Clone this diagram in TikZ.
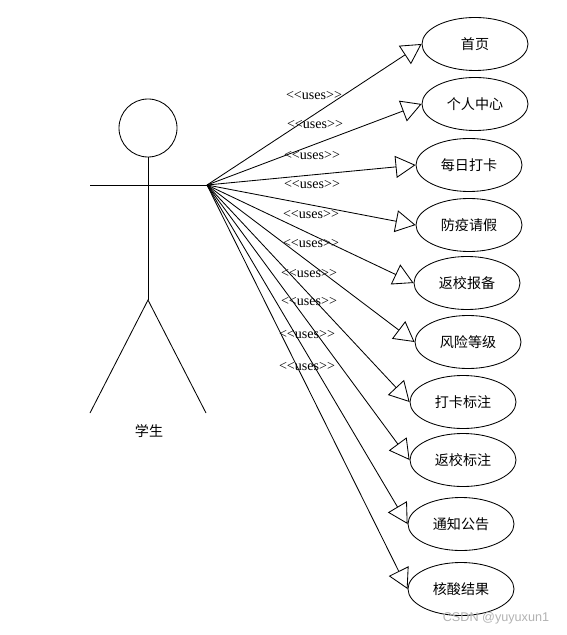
\documentclass[tikz,border=0pt]{standalone}
\usepackage{fontspec}
\setmainfont{Liberation Serif}
\newfontfamily\cjk{Noto Sans CJK SC}
\newfontfamily\marksans{Liberation Sans}
\usetikzlibrary{shapes.geometric,arrows.meta}

\tikzset{
  usecase/.style={draw,ellipse,minimum width=2.65cm,minimum height=1.325cm,
    inner sep=0pt,font=\cjk\fontsize{10}{12}\selectfont},
  uses/.style={-{Triangle[open,length=0.5cm,width=0.55cm]}},
  stereo/.style={inner sep=0pt,font=\fontsize{10}{12}\selectfont}
}

\begin{document}
\begin{tikzpicture}[x=0.025cm,y=-0.025cm,line width=0.6pt]
\useasboundingbox (0,0) rectangle (566,635);

% Actor
\node[draw,circle,minimum size=1.45cm,inner sep=0pt] (head) at (148,128) {};
\coordinate (hip) at (148,300);
\coordinate (lhand) at (90,185);
\coordinate (hub) at (207,185);
\coordinate (lfoot) at (90,413);
\coordinate (rfoot) at (206,413);
\draw (head.south) -- (hip);
\draw (lhand) -- (hub);
\draw (lfoot) -- (hip) -- (rfoot);
\node[font=\cjk\fontsize{10}{12}\selectfont] (actor) at (149,431) {学生};

% Use cases
\foreach \name/\x/\y/\txt in {e1/475/44/首页, e2/475/104/个人中心,
    e3/469/165/每日打卡, e4/469/225/防疫请假, e5/467/283/返校报备,
    e6/468/342/风险等级, e7/463/402/打卡标注, e8/463/460/返校标注,
    e9/461/524/通知公告, e10/461/589/核酸结果}
  \node[usecase] (\name) at (\x,\y) {\txt};

% Associations
\foreach \i in {1,...,10}
  \draw[uses] (hub) -- (e\i.west);

% Stereotypes
\foreach \x/\y [count=\i] in {314/96, 315/125, 312/156, 312/185, 311/215,
    311/244, 309/274, 309/302, 307/335, 307/367}
  \node[stereo] (lbl\i) at (\x,\y) {<\kern0pt<uses>\kern0pt>};

% Watermark
\node[text=gray!60,font=\marksans\fontsize{9}{11}\selectfont] (mark) at (496,618) {CSDN @yuyuxun1};
\end{tikzpicture}
\end{document}
